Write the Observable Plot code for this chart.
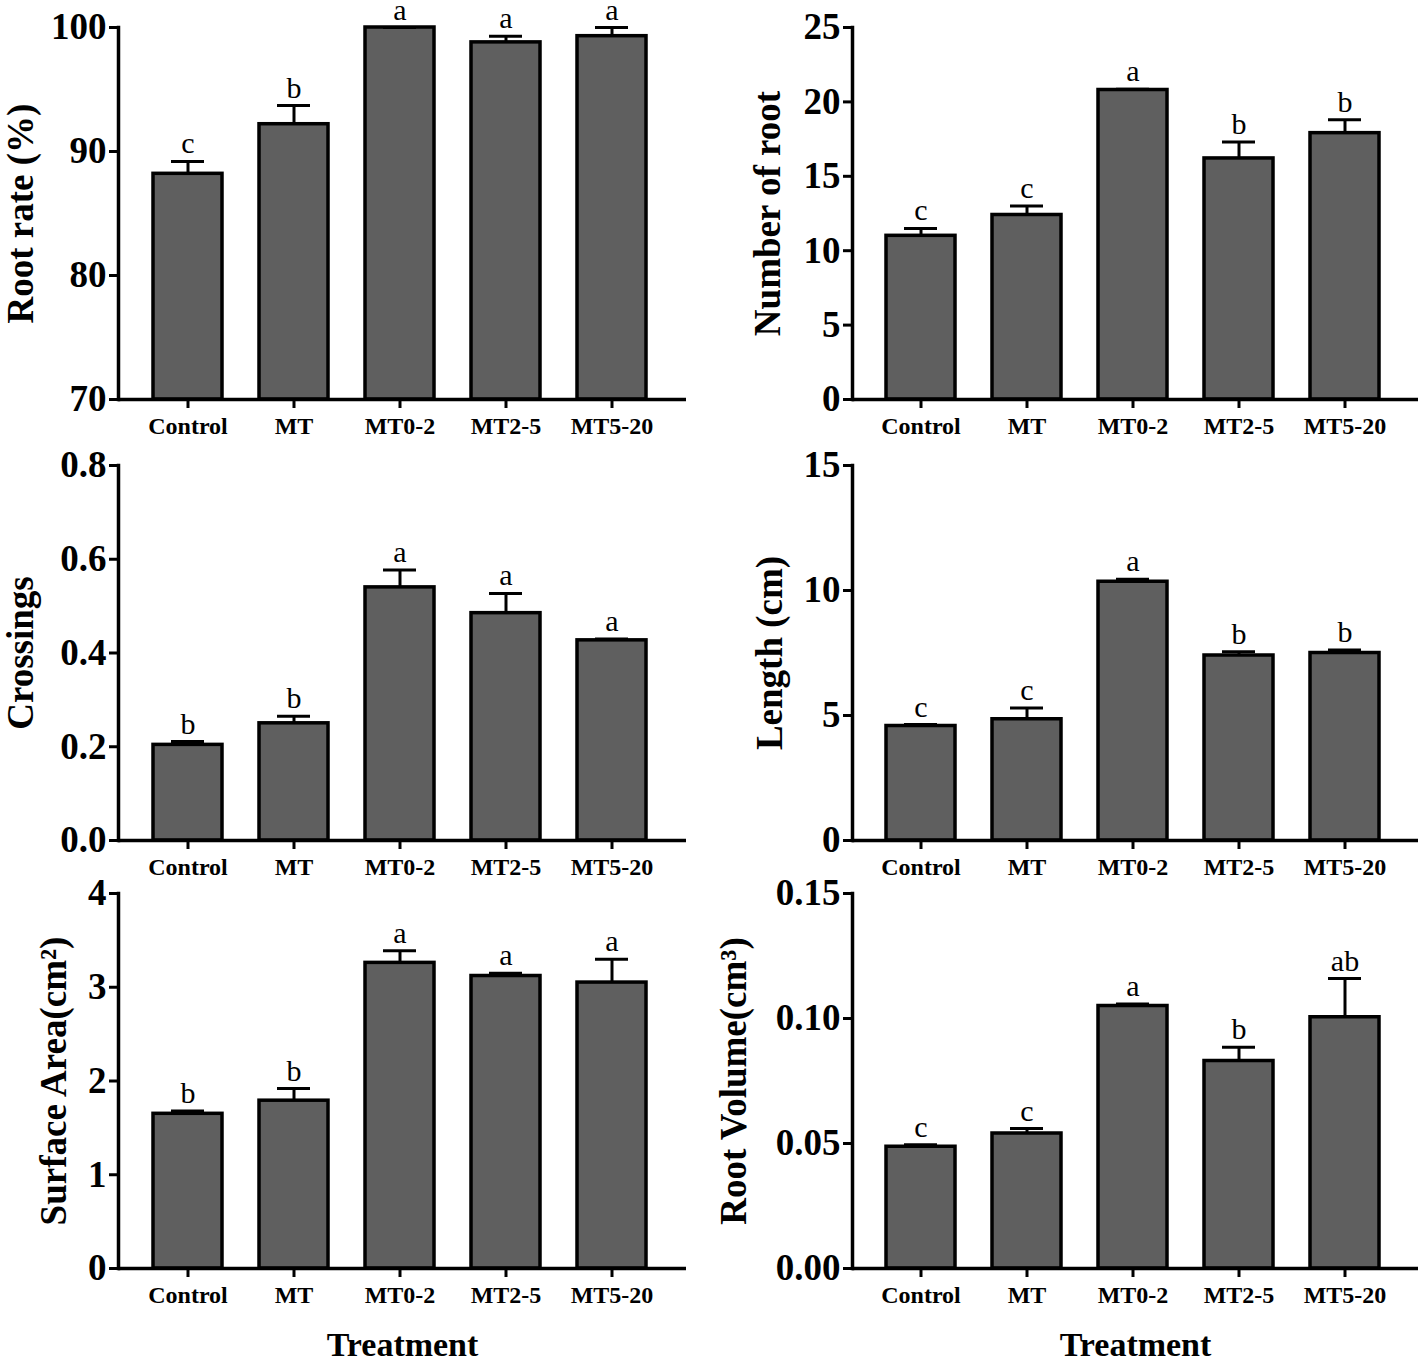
<!DOCTYPE html>
<html>
<head>
<meta charset="utf-8">
<script src="https://cdn.jsdelivr.net/npm/d3@7"></script>
<script src="https://cdn.jsdelivr.net/npm/@observablehq/plot@0.6"></script>
<style>
  html, body { margin: 0; padding: 0; background: #fff; }
  #wrap { position: relative; width: 1418px; height: 1364px; overflow: hidden; background: #fff; }
  svg { overflow: visible; }
</style>
</head>
<body>
<div id="wrap"></div>
<script>
// ---------- data ----------
const categories = ["Control", "MT", "MT0-2", "MT2-5", "MT5-20"];

const rootRate        = [88.2, 92.2, 100.0, 98.8, 99.3];
const rootRateErr     = [1.0, 1.5, 0.0, 0.5, 0.7];
const rootRateLetters = ["c", "b", "a", "a", "a"];
const rootRateTicks   = [70, 80, 90, 100];

const rootNumber        = [11.0, 12.4, 20.8, 16.2, 17.9];
const rootNumberErr     = [0.5, 0.6, 0.05, 1.1, 0.9];
const rootNumberLetters = ["c", "c", "a", "b", "b"];
const rootNumberTicks   = [0, 5, 10, 15, 20, 25];

const crossings        = [0.204, 0.250, 0.540, 0.485, 0.427];
const crossingsErr     = [0.007, 0.015, 0.037, 0.042, 0.003];
const crossingsLetters = ["b", "b", "a", "a", "a"];
const crossingsTicks   = [0, 0.2, 0.4, 0.6, 0.8];

const lengthCm        = [4.58, 4.85, 10.35, 7.40, 7.50];
const lengthErr       = [0.06, 0.45, 0.10, 0.15, 0.12];
const lengthLetters   = ["c", "c", "a", "b", "b"];
const lengthTicks     = [0, 5, 10, 15];

const surfaceArea        = [1.65, 1.79, 3.26, 3.12, 3.05];
const surfaceAreaErr     = [0.03, 0.13, 0.13, 0.03, 0.25];
const surfaceAreaLetters = ["b", "b", "a", "a", "a"];
const surfaceAreaTicks   = [0, 1, 2, 3, 4];

const rootVolume        = [0.0487, 0.0540, 0.1050, 0.0830, 0.1005];
const rootVolumeErr     = [0.0008, 0.0020, 0.0008, 0.0055, 0.0155];
const rootVolumeLetters = ["c", "c", "a", "b", "ab"];
const rootVolumeTicks   = [0, 0.05, 0.10, 0.15];

const yTitles = ["Root rate (%)", "Number of root", "Crossings", "Length (cm)", "Surface Area(cm\u00B2)", "Root Volume(cm\u00B3)"];
const xTitle = "Treatment";

// ---------- drawing ----------
const SERIF = "'Liberation Serif', 'Times New Roman', Times, serif";
const BAR_FILL = "#5f5f5f";

function panel(opts) {
  const {values, errors, letters, ticks, fmt, ylabel, xlabel,
         left, top, width, height, marginLeft, marginRight, marginTop, marginBottom, labelOffset} = opts;
  const data = categories.map((c, i) => ({c, v: values[i], e: values[i] + errors[i], l: letters[i]}));
  const y0 = ticks[0], y1 = ticks[ticks.length - 1];
  const marks = [
    Plot.barY(data, {x: "c", y1: y0, y2: "v", fill: BAR_FILL, stroke: "#000", strokeWidth: 3.5}),
    Plot.ruleX(data, {x: "c", y1: "v", y2: "e", stroke: "#000", strokeWidth: 3}),
    Plot.tickY(data, {x: "c", y: "e", stroke: "#000", strokeWidth: 3, insetLeft: 18, insetRight: 18}),
    Plot.text(data, {x: "c", y: "e", text: "l", lineAnchor: "bottom", dy: -8, fontSize: 30, fontFamily: SERIF, fill: "#000"}),
    Plot.ruleY([y0], {stroke: "#000", strokeWidth: 3.5}),
    Plot.frame({anchor: "left", stroke: "#000", strokeWidth: 3.5}),
    Plot.axisY({ticks, tickFormat: fmt, tickSize: 9, tickPadding: 3, strokeWidth: 3,
      fontSize: 37, fontWeight: "bold", fontFamily: SERIF,
      label: ylabel, labelAnchor: "center", labelOffset, labelArrow: "none"}),
    Plot.axisX({tickSize: 9, tickPadding: 8, strokeWidth: 3,
      fontSize: 24, fontWeight: "bold", fontFamily: SERIF, label: null})
  ];
  if (xlabel) {
    marks.push(Plot.axisX({ticks: [], tickSize: 0, fontSize: 34, fontWeight: "bold", fontFamily: SERIF,
      label: xlabel, labelAnchor: "center", labelOffset: 87, labelArrow: "none"}));
  }
  const plot = Plot.plot({
    width, height, marginLeft, marginRight, marginTop, marginBottom,
    style: {background: "transparent", overflow: "visible", fontFamily: SERIF, color: "#000"},
    x: {domain: categories, paddingInner: 0.35, paddingOuter: 0.33, align: 0.46},
    y: {domain: [y0, y1]},
    marks
  });
  plot.style.position = "absolute";
  plot.style.left = left + "px";
  plot.style.top = top + "px";
  document.getElementById("wrap").appendChild(plot);
  return plot;
}

const f0 = d3.format("d"), f1 = d3.format(".1f"), f2 = d3.format(".2f");
const L = {left: 0, width: 700, marginLeft: 118, marginRight: 14, labelOffset: 112};
const R = {left: 708, width: 710, marginLeft: 144, marginRight: 0, labelOffset: 99};
const row1 = {top: 0, height: 440, marginTop: 27, marginBottom: 41};
const row2 = {top: 440, height: 440, marginTop: 25, marginBottom: 40};
const row3 = {top: 870, height: 494, marginTop: 23, marginBottom: 96};

panel({...L, ...row1, values: rootRate, errors: rootRateErr, letters: rootRateLetters, ticks: rootRateTicks, fmt: f0, ylabel: yTitles[0]});
panel({...R, ...row1, values: rootNumber, errors: rootNumberErr, letters: rootNumberLetters, ticks: rootNumberTicks, fmt: f0, ylabel: yTitles[1]});
panel({...L, ...row2, values: crossings, errors: crossingsErr, letters: crossingsLetters, ticks: crossingsTicks, fmt: f1, ylabel: yTitles[2]});
panel({...R, ...row2, labelOffset: 97, values: lengthCm, errors: lengthErr, letters: lengthLetters, ticks: lengthTicks, fmt: f0, ylabel: yTitles[3]});
panel({...L, ...row3, labelOffset: 79, values: surfaceArea, errors: surfaceAreaErr, letters: surfaceAreaLetters, ticks: surfaceAreaTicks, fmt: f0, ylabel: yTitles[4], xlabel: xTitle});
panel({...R, ...row3, labelOffset: 133, values: rootVolume, errors: rootVolumeErr, letters: rootVolumeLetters, ticks: rootVolumeTicks, fmt: f2, ylabel: yTitles[5], xlabel: xTitle});
</script>
</body>
</html>
